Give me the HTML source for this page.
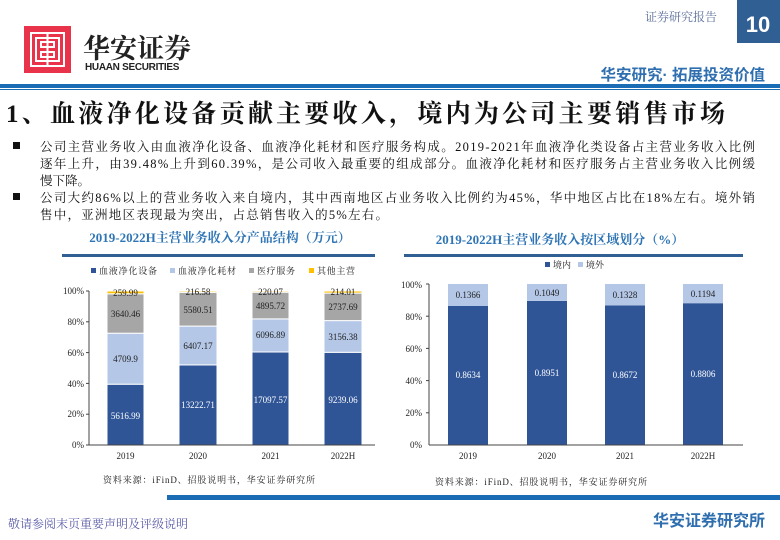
<!DOCTYPE html>
<html><head><meta charset="utf-8"><style>
body{margin:0;width:780px;height:540px;overflow:hidden;background:#fff}
svg{display:block}
.s{font-family:"Liberation Serif","Noto Serif CJK SC",serif}
.h{font-family:"Liberation Sans","Noto Sans CJK SC",sans-serif}
</style></head><body>
<svg width="780" height="540" viewBox="0 0 780 540">
<text x="645" y="21" class="s" font-size="12" fill="#5a6e9a">证券研究报告</text>
<rect x="737" y="0" width="43" height="43" fill="#2f5f93"/>
<text x="758" y="32" class="h" font-size="22" font-weight="bold" fill="#fff" text-anchor="middle">10</text>
<rect x="24" y="26" width="47" height="47" fill="#e8334a"/>
<g fill="none" stroke="#fff" stroke-width="2">
<rect x="31" y="33" width="33" height="33"/>
<rect x="36" y="38" width="23" height="23"/>
<rect x="41" y="42" width="13" height="5"/><rect x="41" y="52" width="13" height="5"/>
<line x1="47.5" y1="33" x2="47.5" y2="66"/>
</g>
<text x="83" y="58" class="s" font-size="27" font-weight="bold" fill="#222">华安证券</text>
<text x="85" y="70" class="h" font-size="10" fill="#222" font-weight="bold" letter-spacing="-0.3">HUAAN SECURITIES</text>
<text x="765" y="80" class="h" font-size="15.5" font-weight="bold" fill="#2f6fb0" text-anchor="end">华安研究· 拓展投资价值</text>
<rect x="0" y="84" width="780" height="4" fill="#1a6db5"/>
<rect x="0" y="89" width="780" height="1" fill="#1a6db5"/>
<text x="6" y="122" class="s" font-size="25" font-weight="bold" fill="#111" textLength="719" lengthAdjust="spacing">1、血液净化设备贡献主要收入，境内为公司主要销售市场</text>
<g class="s" font-size="12.5" fill="#111">
<rect x="13" y="142" width="7" height="7" fill="#111"/>
<text x="40" y="151" textLength="715" lengthAdjust="spacing">公司主营业务收入由血液净化设备、血液净化耗材和医疗服务构成。2019-2021年血液净化类设备占主营业务收入比例</text>
<text x="40" y="168" textLength="715" lengthAdjust="spacing">逐年上升，由39.48%上升到60.39%，是公司收入最重要的组成部分。血液净化耗材和医疗服务占主营业务收入比例缓</text>
<text x="40" y="185">慢下降。</text>
<rect x="13" y="193" width="7" height="7" fill="#111"/>
<text x="40" y="202" textLength="715" lengthAdjust="spacing">公司大约86%以上的营业务收入来自境内，其中西南地区占业务收入比例约为45%，华中地区占比在18%左右。境外销</text>
<text x="40" y="219" textLength="348" lengthAdjust="spacing">售中，亚洲地区表现最为突出，占总销售收入的5%左右。</text>
</g>
<text x="220" y="242" class="s" font-size="13" font-weight="bold" fill="#2f75b5" text-anchor="middle">2019-2022H主营业务收入分产品结构（万元）</text>
<rect x="62" y="254" width="313" height="3" fill="#2f5f93"/>
<g class="s" font-size="9" fill="#222">
<rect x="91" y="268" width="5" height="5" fill="#2f5597"/><text x="99" y="274" textLength="58">血液净化设备</text>
<rect x="170" y="268" width="5" height="5" fill="#b4c7e7"/><text x="178" y="274" textLength="58">血液净化耗材</text>
<rect x="249" y="268" width="5" height="5" fill="#a6a6a6"/><text x="257" y="274" textLength="38">医疗服务</text>
<rect x="309" y="268" width="5" height="5" fill="#ffc000"/><text x="317" y="274" textLength="38">其他主营</text>
</g>
<g stroke="#fff" stroke-width="1">
<rect x="107" y="384.2" width="37" height="60.8" fill="#2f5597"/>
<rect x="107" y="333.2" width="37" height="51" fill="#b4c7e7"/>
<rect x="107" y="293.8" width="37" height="39.4" fill="#a6a6a6"/>
<rect x="107" y="291" width="37" height="2.8" fill="#ffc000"/>
<rect x="179" y="364.9" width="38" height="80.1" fill="#2f5597"/>
<rect x="179" y="326.1" width="38" height="38.8" fill="#b4c7e7"/>
<rect x="179" y="292.3" width="38" height="33.8" fill="#a6a6a6"/>
<rect x="179" y="291" width="38" height="1.3" fill="#ffc000"/>
<rect x="252" y="352" width="37" height="93" fill="#2f5597"/>
<rect x="252" y="318.9" width="37" height="33.1" fill="#b4c7e7"/>
<rect x="252" y="292.2" width="37" height="26.7" fill="#a6a6a6"/>
<rect x="252" y="291" width="37" height="1.2" fill="#ffc000"/>
<rect x="324" y="352.3" width="38" height="92.7" fill="#2f5597"/>
<rect x="324" y="320.6" width="38" height="31.7" fill="#b4c7e7"/>
<rect x="324" y="293.1" width="38" height="27.5" fill="#a6a6a6"/>
<rect x="324" y="291" width="38" height="2.1" fill="#ffc000"/>
</g>
<g stroke="#444" stroke-width="1">
<line x1="89" y1="291" x2="89" y2="445"/><line x1="89" y1="445" x2="375" y2="445"/>
<line x1="86" y1="291" x2="89" y2="291"/><line x1="86" y1="321.8" x2="89" y2="321.8"/><line x1="86" y1="352.6" x2="89" y2="352.6"/><line x1="86" y1="383.4" x2="89" y2="383.4"/><line x1="86" y1="414.2" x2="89" y2="414.2"/><line x1="86" y1="445" x2="89" y2="445"/>
</g>
<g class="s" font-size="9" fill="#222" text-anchor="end">
<text x="84" y="294">100%</text><text x="84" y="325">80%</text><text x="84" y="356">60%</text><text x="84" y="387">40%</text><text x="84" y="417">20%</text><text x="84" y="448">0%</text>
</g>
<g class="s" font-size="9" text-anchor="middle" fill="#222">
<text x="125.5" y="296">259.99</text><text x="125.5" y="317">3640.46</text><text x="125.5" y="362">4709.9</text><text x="125.5" y="419" fill="#fff">5616.99</text>
<text x="198" y="295">216.58</text><text x="198" y="313">5580.51</text><text x="198" y="349">6407.17</text><text x="198" y="408" fill="#fff">13222.71</text>
<text x="270.5" y="295">220.07</text><text x="270.5" y="309">4895.72</text><text x="270.5" y="338">6096.89</text><text x="270.5" y="403" fill="#fff">17097.57</text>
<text x="343" y="295">214.01</text><text x="343" y="310">2737.69</text><text x="343" y="340">3156.38</text><text x="343" y="403" fill="#fff">9239.06</text>
<text x="125.5" y="459">2019</text><text x="198" y="459">2020</text><text x="270.5" y="459">2021</text><text x="343" y="459">2022H</text>
</g>
<text x="103" y="483" class="s" font-size="9" fill="#222" textLength="212" lengthAdjust="spacing">资料来源：iFinD、招股说明书，华安证券研究所</text>
<text x="560" y="244" class="s" font-size="13" font-weight="bold" fill="#2f75b5" text-anchor="middle">2019-2022H主营业务收入按区域划分（%）</text>
<rect x="404" y="254" width="339" height="3" fill="#2f5f93"/>
<g class="s" font-size="9" fill="#222">
<rect x="545" y="262" width="5" height="5" fill="#2f5597"/><text x="553" y="268">境内</text>
<rect x="578" y="262" width="5" height="5" fill="#b4c7e7"/><text x="586" y="268">境外</text>
</g>
<g>
<rect x="448" y="306" width="40" height="139" fill="#2f5597"/><rect x="448" y="284" width="40" height="22" fill="#b4c7e7"/>
<rect x="527" y="300.9" width="40" height="144.1" fill="#2f5597"/><rect x="527" y="284" width="40" height="16.9" fill="#b4c7e7"/>
<rect x="605" y="305.4" width="40" height="139.6" fill="#2f5597"/><rect x="605" y="284" width="40" height="21.4" fill="#b4c7e7"/>
<rect x="683" y="303.2" width="40" height="141.8" fill="#2f5597"/><rect x="683" y="284" width="40" height="19.2" fill="#b4c7e7"/>
</g>
<g stroke="#444" stroke-width="1">
<line x1="429" y1="284" x2="429" y2="445"/><line x1="429" y1="445" x2="743" y2="445"/>
<line x1="426" y1="284" x2="429" y2="284"/><line x1="426" y1="316.2" x2="429" y2="316.2"/><line x1="426" y1="348.4" x2="429" y2="348.4"/><line x1="426" y1="380.6" x2="429" y2="380.6"/><line x1="426" y1="412.8" x2="429" y2="412.8"/>
</g>
<g class="s" font-size="9" fill="#222" text-anchor="end">
<text x="422" y="288">100%</text><text x="422" y="320">80%</text><text x="422" y="352">60%</text><text x="422" y="384">40%</text><text x="422" y="416">20%</text><text x="422" y="448">0%</text>
</g>
<g class="s" font-size="9" text-anchor="middle" fill="#222">
<text x="468" y="298">0.1366</text><text x="547" y="296">0.1049</text><text x="625" y="298">0.1328</text><text x="703" y="297">0.1194</text>
<text x="468" y="378" fill="#fff">0.8634</text><text x="547" y="376" fill="#fff">0.8951</text><text x="625" y="378" fill="#fff">0.8672</text><text x="703" y="377" fill="#fff">0.8806</text>
<text x="468" y="459">2019</text><text x="547" y="459">2020</text><text x="625" y="459">2021</text><text x="703" y="459">2022H</text>
</g>
<text x="435" y="485" class="s" font-size="9" fill="#222" textLength="212" lengthAdjust="spacing">资料来源：iFinD、招股说明书，华安证券研究所</text>
<rect x="167" y="495" width="613" height="5" fill="#1a6db5"/>
<text x="8" y="528" class="s" font-size="12" fill="#5a5aa8">敬请参阅末页重要声明及评级说明</text>
<text x="765" y="526" class="h" font-size="16" font-weight="bold" fill="#2f6fb0" text-anchor="end">华安证券研究所</text>
</svg>
</body></html>
